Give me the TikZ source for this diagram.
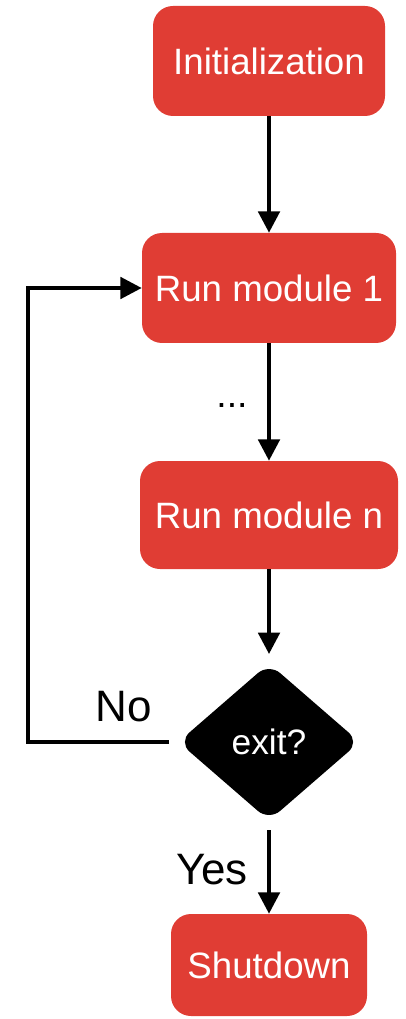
\documentclass[tikz,border=0pt]{standalone}
\usepackage{fontspec}
\setmainfont{Liberation Sans}
\usetikzlibrary{arrows.meta,shapes.geometric}
\definecolor{boxred}{RGB}{224,61,52}
\tikzset{
	stage/.style={draw=none, fill=boxred, rounded corners=15pt, text=white,
		font=\fontsize{27.5pt}{30pt}\selectfont, inner sep=0pt},
	decision/.style={diamond, fill=black, text=white, rounded corners=11pt,
		minimum width=140pt, minimum height=122pt, inner sep=0pt, outer sep=5pt,
		font=\fontsize{26.5pt}{28pt}\selectfont},
	flow/.style={line width=3pt, -{Triangle[length=16pt, width=16pt]}},
	answer/.style={font=\fontsize{33pt}{36pt}\selectfont}
}

\begin{document}
\begin{tikzpicture}[x=0.75pt, y=-0.75pt]
		%%%%% START %%%%%
		\useasboundingbox (0, 0) rectangle (405, 1019);
		
		\node[stage, minimum width=174pt, minimum height=82.5pt] (init) at (269, 61) {Initialization};
		\node[stage, minimum width=190.5pt, minimum height=82.5pt] (run1) at (269, 288) {Run module 1};
		\node[stage, minimum width=193.5pt, minimum height=81pt] (runn) at (269, 515) {Run module n};
		\node[decision] (exit) at (269, 742) {exit?};
		\node[stage, minimum width=147pt, minimum height=76.5pt] (shut) at (269, 965) {Shutdown};
		
		\node[font=\fontsize{28pt}{30pt}\selectfont] (dots) at (232, 406) {...};
		\node[answer] (no) at (124, 707) {No};
		\node[answer] (yes) at (212, 870) {Yes};
		
		\coordinate (back) at (28, 742);
		
		\draw[flow] (init) -- (run1);
		\draw[flow] (run1) -- (runn);
		\draw[flow] (runn) -- (exit);
		\draw[flow] (exit) -- (shut);
		\draw[flow] (exit.west) -- (back) |- (run1.west);
		%%%%% END %%%%%
	\end{tikzpicture}
\end{document}
